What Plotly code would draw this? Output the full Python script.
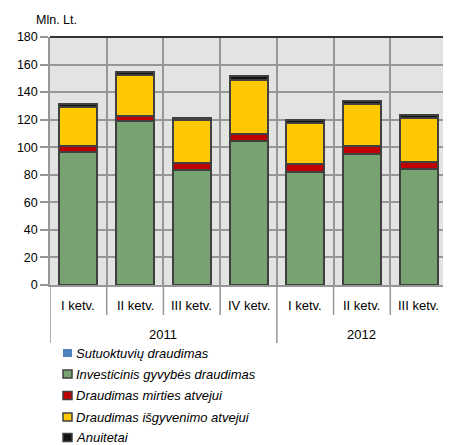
import plotly.graph_objects as go

# data (Mln. Lt.)
years = ["2011", "2011", "2011", "2011", "2012", "2012", "2012"]
quarters = ["I ketv.", "II ketv.", "III ketv.", "IV ketv.", "I ketv.", "II ketv.", "III ketv."]

sutuoktuviu = [0.2, 0.2, 0.2, 0.2, 0.2, 0.2, 0.2]
investicinis = [96.5, 118.5, 83.0, 104.0, 82.0, 95.0, 84.0]
mirties = [4.5, 4.0, 5.3, 5.6, 5.6, 5.4, 5.3]
isgyvenimo = [28.0, 29.8, 31.2, 39.2, 29.5, 30.9, 31.5]
anuitetai = [2.0, 2.4, 1.6, 3.0, 2.8, 2.4, 2.4]

series = [
    ("Sutuoktuvių draudimas", sutuoktuviu, "#4F81BD", 0),
    ("Investicinis gyvybės draudimas", investicinis, "#76A36F", 2),
    ("Draudimas mirties atvejui", mirties, "#C00000", 2),
    ("Draudimas išgyvenimo atvejui", isgyvenimo, "#FFC800", 2),
    ("Anuitetai", anuitetai, "#111111", 2),
]

# page body has an 8px margin, so the figure is a bit smaller than the window
W, H = 443, 437
ML, MR, MT, MB = 42, 4, 29, 160
PH = H - MT - MB
PW = W - ML - MR
GRID = "#969696"


def py(px_below):
    # paper y for a distance in px below the plot bottom
    return -px_below / PH


def px_x(px):
    return (px - ML) / PW


def px_y(px):
    return (H - MB - px) / PH


fig = go.Figure()
idx = list(range(len(quarters)))
for name, vals, color, lw in series:
    fig.add_trace(go.Bar(
        x=idx,
        y=vals,
        name=name,
        marker=dict(color=color, line=dict(color="#404040", width=lw)),
    ))

shapes = []
annotations = []

# x axis labels and dividers
for i, q in enumerate(quarters):
    annotations.append(dict(
        x=i, y=py(20), xref="x", yref="paper", text=q, showarrow=False,
        xanchor="center", yanchor="middle", font=dict(size=13),
    ))
for b in range(len(quarters) + 1):
    x = b - 0.5
    is_year = b == 0 or b == len(quarters) or years[b] != years[b - 1]
    shapes.append(dict(
        type="line", xref="x", yref="paper", x0=x, x1=x, y0=0,
        y1=py(58 if is_year else 30), line=dict(color=GRID, width=1.5),
    ))
for yr in sorted(set(years)):
    pos = [i for i, y in enumerate(years) if y == yr]
    annotations.append(dict(
        x=(pos[0] + pos[-1]) / 2, y=py(49), xref="x", yref="paper", text=yr,
        showarrow=False, xanchor="center", yanchor="middle", font=dict(size=13),
    ))

# legend drawn by hand (tight symbol/text spacing of the original)
leg_y = [345, 366, 387.5, 409, 429.5]
for (name, vals, color, lw), yy in zip(series, leg_y):
    shapes.append(dict(
        type="rect", xref="paper", yref="paper",
        x0=px_x(55), x1=px_x(64), y0=px_y(yy - 4), y1=px_y(yy + 4),
        fillcolor=color,
        line=dict(color="#404040", width=1.5 if lw else 0),
    ))
    annotations.append(dict(
        x=px_x(66), y=px_y(yy), xref="paper", yref="paper", text=name,
        showarrow=False, xanchor="left", yanchor="middle",
        font=dict(size=13, style="italic"),
    ))

annotations.append(dict(
    text="Mln. Lt.", x=px_x(26), y=px_y(12), xref="paper", yref="paper",
    xanchor="left", yanchor="middle", showarrow=False, font=dict(size=12.5),
))

# dark top border and right border of the plot area
shapes.append(dict(type="line", xref="paper", yref="paper", x0=0, x1=1, y0=1, y1=1,
                   line=dict(color="#333333", width=2)))
shapes.append(dict(type="line", xref="paper", yref="paper", x0=1, x1=1, y0=0, y1=1,
                   line=dict(color=GRID, width=1.5)))

fig.update_layout(
    barmode="stack",
    bargap=0.33,
    width=W,
    height=H,
    margin=dict(l=ML, r=MR, t=MT, b=MB),
    paper_bgcolor="white",
    plot_bgcolor="#E1E4E1",
    font=dict(family="Liberation Sans, Arial, sans-serif", size=12, color="black"),
    showlegend=False,
    shapes=shapes,
    annotations=annotations,
)

fig.update_yaxes(
    range=[0, 180],
    dtick=20,
    showgrid=True,
    gridcolor=GRID,
    gridwidth=1.5,
    ticks="outside",
    ticklen=8,
    tickcolor=GRID,
    tickwidth=1.5,
    tickfont=dict(size=12.5),
    showline=True,
    linecolor=GRID,
    linewidth=1.5,
    zeroline=False,
)

fig.update_xaxes(
    range=[-0.5, len(quarters) - 0.5],
    tickmode="array",
    tickvals=[b - 0.5 for b in range(len(quarters) + 1)],
    showticklabels=False,
    showgrid=True,
    gridcolor=GRID,
    gridwidth=1.5,
    ticks="",
    showline=True,
    linecolor=GRID,
    linewidth=1.5,
    zeroline=False,
)

fig.write_html("out.html")
